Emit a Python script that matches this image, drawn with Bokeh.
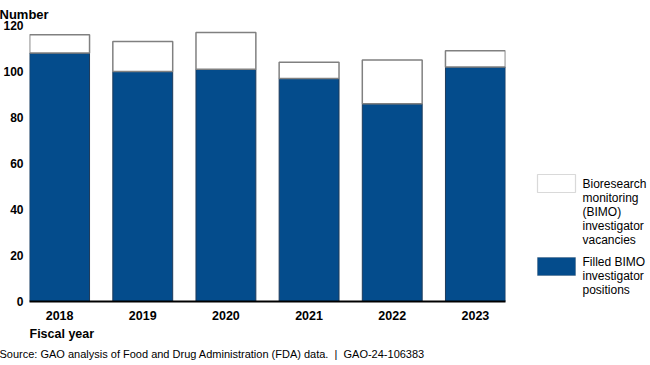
from bokeh.plotting import figure
from bokeh.layouts import row
from bokeh.models import (ColumnDataSource, Range1d, FixedTicker, Title, Label, BoxAnnotation)
from bokeh.embed import file_html
from bokeh.resources import INLINE

years = ["2018", "2019", "2020", "2021", "2022", "2023"]
filled = [108, 100, 101, 97, 86, 102]
vacancies = [8, 13, 16, 7, 19, 7]
y_ticks = [0, 20, 40, 60, 80, 100, 120]
legend_labels = ["Bioresearch\nmonitoring\n(BIMO)\ninvestigator\nvacancies",
                 "Filled BIMO\ninvestigator\npositions"]

BLUE = "#044c8c"
EDGE_BLUE = "#1d3a5a"
GRAY = "#808080"
FONT = "Liberation Sans"

x = list(range(len(years)))
total = [f + v for f, v in zip(filled, vacancies)]
src = ColumnDataSource(dict(x=x, filled=filled, total=total, zero=[0] * len(x)))

H = 365
PW, LW = 510, 140
TOP, BOTTOM = 25, 64
p = figure(width=PW, height=H, output_backend="svg", toolbar_location=None,
           x_range=Range1d(-0.362, len(x) - 1 + 0.362), y_range=Range1d(0, 120),
           min_border_left=29, min_border_right=5, min_border_top=TOP, min_border_bottom=BOTTOM)
p.outline_line_color = None
p.grid.visible = False

p.vbar(x="x", width=0.72, bottom="zero", top="filled", source=src,
       fill_color=BLUE, line_color=EDGE_BLUE, line_width=1)
p.vbar(x="x", width=0.72, bottom="filled", top="total", source=src,
       fill_color="white", line_color=GRAY, line_width=1.5)

ya = p.yaxis[0]
ya.ticker = FixedTicker(ticks=y_ticks)
ya.axis_line_color = None
ya.major_tick_line_color = None
ya.minor_tick_line_color = None
ya.major_tick_out = 0
ya.minor_tick_out = 0
ya.major_label_text_font = FONT
ya.major_label_text_font_style = "bold"
ya.major_label_text_font_size = "12px"
ya.major_label_text_color = "black"
ya.major_label_standoff = 6

xa = p.xaxis[0]
xa.ticker = FixedTicker(ticks=x)
xa.major_label_overrides = {i: years[i] for i in x}
xa.axis_line_color = "black"
xa.axis_line_width = 2
xa.major_tick_line_color = None
xa.minor_tick_line_color = None
xa.major_tick_out = 0
xa.minor_tick_out = 0
xa.major_label_text_font = FONT
xa.major_label_text_font_style = "bold"
xa.major_label_text_font_size = "12.5px"
xa.major_label_text_color = "black"
xa.major_label_standoff = 9


def title(txt, place, offset, size="13px", bold=True, standoff=4):
    t = Title(text=txt, align="left", offset=offset, text_font=FONT, text_font_size=size,
              text_font_style="bold" if bold else "normal", text_color="black",
              standoff=standoff)
    p.add_layout(t, place)


title("Number", "above", -30, standoff=7)
title("Fiscal year", "below", 0, size="12.5px", standoff=5)
title("Source: GAO analysis of Food and Drug Administration (FDA) data.\u00a0\u00a0|\u00a0\u00a0GAO-24-106383",
      "below", -30, size="11px", bold=False, standoff=5)

# legend panel: same frame top/bottom as the chart, coordinates in page pixels (y down)
lf = figure(width=LW, height=H, output_backend="svg", toolbar_location=None,
            x_range=Range1d(0, LW), y_range=Range1d(H - BOTTOM, TOP),
            x_axis_type=None, y_axis_type=None,
            min_border_left=0, min_border_right=0, min_border_top=TOP, min_border_bottom=BOTTOM)
lf.outline_line_color = None
lf.grid.visible = False

lf.add_layout(BoxAnnotation(left=27, right=65, top=174, bottom=192,
                            fill_color="white", fill_alpha=1, line_color=GRAY, line_width=1.2))
lf.add_layout(BoxAnnotation(left=27, right=65, top=257, bottom=275,
                            fill_color=BLUE, fill_alpha=1, line_color=EDGE_BLUE, line_width=1))
for txt, ytop in zip(legend_labels, [176, 254]):
    lf.add_layout(Label(x=72, y=ytop, text=txt, text_font=FONT, text_font_size="12px",
                        text_color="black", text_baseline="top", text_align="left",
                        text_line_height=1.0))

layout = row(p, lf, spacing=0)
open("out.html", "w").write(file_html(layout, INLINE))
